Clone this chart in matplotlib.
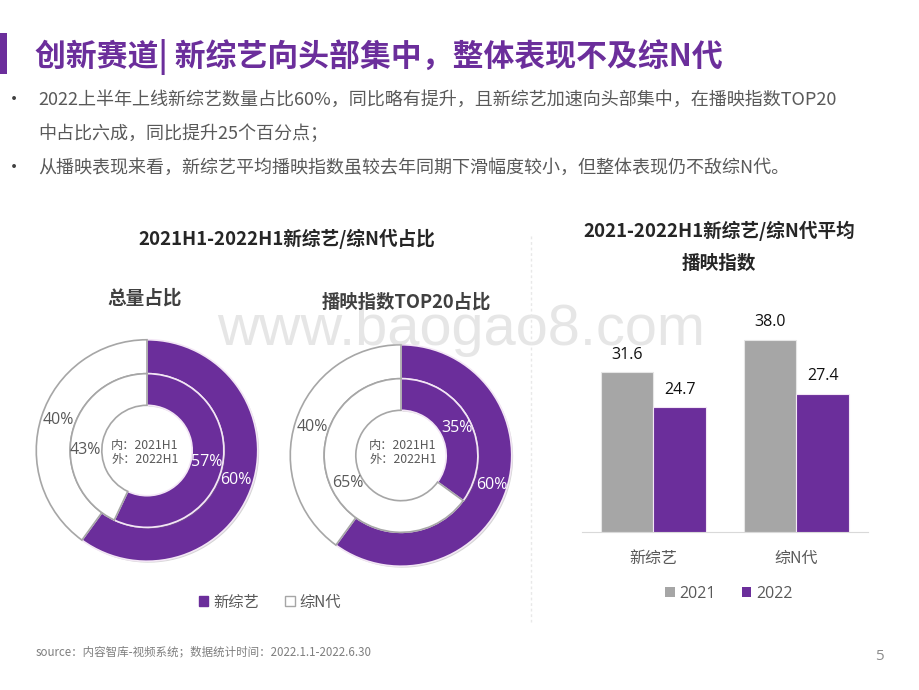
import matplotlib
matplotlib.use('Agg')
import matplotlib.pyplot as plt
import matplotlib.patheffects as pe
from matplotlib.patches import Patch, Rectangle

plt.rcParams['font.family'] = ['Noto Sans CJK SC', 'DejaVu Sans']

W, H = 920, 690
PURPLE = '#6b2e9b'
GRAY = '#a6a6a6'
TEXT = '#595959'

# data
pie_names = ['新综艺', '综N代']
total_inner = [57, 43]
total_outer = [60, 40]
top20_inner = [35, 65]
top20_outer = [60, 40]

bar_cats = ['新综艺', '综N代']
bar_2021 = [31.6, 38.0]
bar_2022 = [24.7, 27.4]

fig = plt.figure(figsize=(9.2, 6.9), dpi=100, facecolor='white')


def px_axes(x0, y0, x1, y1):
    # axes from pixel box, y measured from the top
    return fig.add_axes([x0 / W, 1 - y1 / H, (x1 - x0) / W, (y1 - y0) / H])


shadow = [pe.SimplePatchShadow(offset=(1, -1), shadow_rgbFace='#888888', alpha=0.35), pe.Normal()]


def draw_donut(cx, cy, inner, outer):
    ax = px_axes(cx - 113, cy - 113, cx + 113, cy + 113)
    ax.axis('off')
    for vals, r, hole in [(outer, 0.98, 0.68), (inner, 0.68, 0.40)]:
        wedges, _ = ax.pie(vals, radius=r, startangle=90, counterclock=False,
                           colors=[PURPLE, 'white'],
                           wedgeprops=dict(width=r - hole, linewidth=1.2))
        wedges[0].set_edgecolor('#f3e6f5')
        wedges[1].set_edgecolor(GRAY)
        wedges[0].set_path_effects(shadow)
        wedges[1].set_zorder(wedges[0].get_zorder() + 1)
    ax.set_xlim(-1, 1)
    ax.set_ylim(-1, 1)


draw_donut(147, 450.5, total_inner, total_outer)
draw_donut(401, 455.5, top20_inner, top20_outer)

# bars
ax = px_axes(582, 330, 868, 532)
x = [0, 1]
w = 0.366
ax.bar([i - w / 2 for i in x], bar_2021, w, color=GRAY, edgecolor='#e6e6e6', linewidth=0.8, zorder=2)
ax.bar([i + w / 2 for i in x], bar_2022, w, color=PURPLE, edgecolor='#f3e6f5', linewidth=0.8,
       path_effects=shadow, zorder=3)
ax.set_xlim(-0.5, 1.5)
ax.set_ylim(0, 40)
ax.patch.set_alpha(0)
for s in ['top', 'left', 'right']:
    ax.spines[s].set_visible(False)
ax.spines['bottom'].set_color('#d9d9d9')
ax.set_yticks([])
ax.set_xticks(x)
ax.set_xticklabels(bar_cats, fontsize=11.5, color=TEXT)
ax.tick_params(axis='x', length=0, pad=13)
for i in x:
    ax.annotate(f'{bar_2021[i]:.1f}', (i - w / 2, bar_2021[i]), xytext=(0, 7), textcoords='offset points',
                ha='center', va='bottom', fontsize=11.5, color='#111111', family='Open Sans')
    ax.annotate(f'{bar_2022[i]:.1f}', (i + w / 2, bar_2022[i]), xytext=(0, 7), textcoords='offset points',
                ha='center', va='bottom', fontsize=11.5, color='#111111', family='Open Sans')

# overlay for the slide text
ov = fig.add_axes([0, 0, 1, 1], zorder=10)
ov.set_xlim(0, W)
ov.set_ylim(H, 0)
ov.axis('off')
ov.patch.set_alpha(0)


def put(x, y, s, size, color=TEXT, ha='left', weight='normal', **kw):
    ov.text(x, y, s, fontsize=size, color=color, ha=ha, va='center', fontweight=weight, **kw)


ov.add_patch(Rectangle((0, 33), 7, 41, color=PURPLE, lw=0))
put(35, 57, '创新赛道| 新综艺向头部集中，整体表现不及综N代', 22.2, color=PURPLE, weight='bold')

put(5, 100, '•', 13, color='#404040')
put(38, 100, '2022上半年上线新综艺数量占比60%，同比略有提升，且新综艺加速向头部集中，在播映指数TOP20', 13)
put(38, 134, '中占比六成，同比提升25个百分点；', 13)
put(5, 168, '•', 13, color='#404040')
put(38, 168, '从播映表现来看，新综艺平均播映指数虽较去年同期下滑幅度较小，但整体表现仍不敌综N代。', 13)

put(287, 239, '2021H1-2022H1新综艺/综N代占比', 13.4, color='#262626', ha='center', weight='bold')
put(145, 298, '总量占比', 13.4, color='#404040', ha='center', weight='bold')
put(406, 302, '播映指数TOP20占比', 13.2, color='#404040', ha='center', weight='bold')
put(719, 231, '2021-2022H1新综艺/综N代平均', 13.4, color='#262626', ha='center', weight='bold')
put(719, 263, '播映指数', 13.4, color='#262626', ha='center', weight='bold')

# watermark
ov.text(461, 330, 'www.baogao8.com', fontsize=41.6, color='#c8c8c8', alpha=0.45, ha='center', va='center',
        family='Liberation Sans', zorder=0)

# pie labels
for px, py, s, c in [(58, 420, '40%', TEXT), (85, 450, '43%', TEXT), (207, 462, '57%', 'white'),
                     (236, 480, '60%', 'white'), (312, 427, '40%', TEXT), (348, 483, '65%', TEXT),
                     (457, 428, '35%', 'white'), (492, 485, '60%', 'white')]:
    put(px, py, s, 11.5, color=c, ha='center', family='Open Sans')

put(145, 445, '内：2021H1', 8.8, ha='center')
put(145, 459, '外：2022H1', 8.8, ha='center')
put(403, 446, '内：2021H1', 8.8, ha='center')
put(403, 460, '外：2022H1', 8.8, ha='center')

# divider
ov.plot([531, 531], [236, 622], color='#e8e8e8', lw=1, ls=(0, (2, 2)))

# legends
leg1 = fig.legend(handles=[Patch(facecolor=PURPLE, edgecolor=PURPLE, label=pie_names[0]),
                           Patch(facecolor='white', edgecolor=GRAY, label=pie_names[1])],
                  loc='center', bbox_to_anchor=(270 / W, 1 - 602 / H), ncol=2, frameon=False,
                  fontsize=11, labelcolor=TEXT, handlelength=0.6, handleheight=0.6,
                  handletextpad=0.3, columnspacing=1.75)
leg2 = fig.legend(handles=[Patch(facecolor=GRAY, label='2021'), Patch(facecolor=PURPLE, label='2022')],
                  loc='center', bbox_to_anchor=(729 / W, 1 - 594 / H), ncol=2, frameon=False,
                  labelcolor=TEXT, handlelength=0.6, handleheight=0.6,
                  handletextpad=0.3, columnspacing=1.6, prop={'family': ['Open Sans'], 'size': 11.5})

put(36, 652, 'source：内容智库-视频系统；数据统计时间：2022.1.1-2022.6.30', 8.3, color='#7f7f7f')
put(879, 656, '5', 11, color='#8c8c8c', ha='center', family='Open Sans')

fig.savefig('out.png', dpi=100)
